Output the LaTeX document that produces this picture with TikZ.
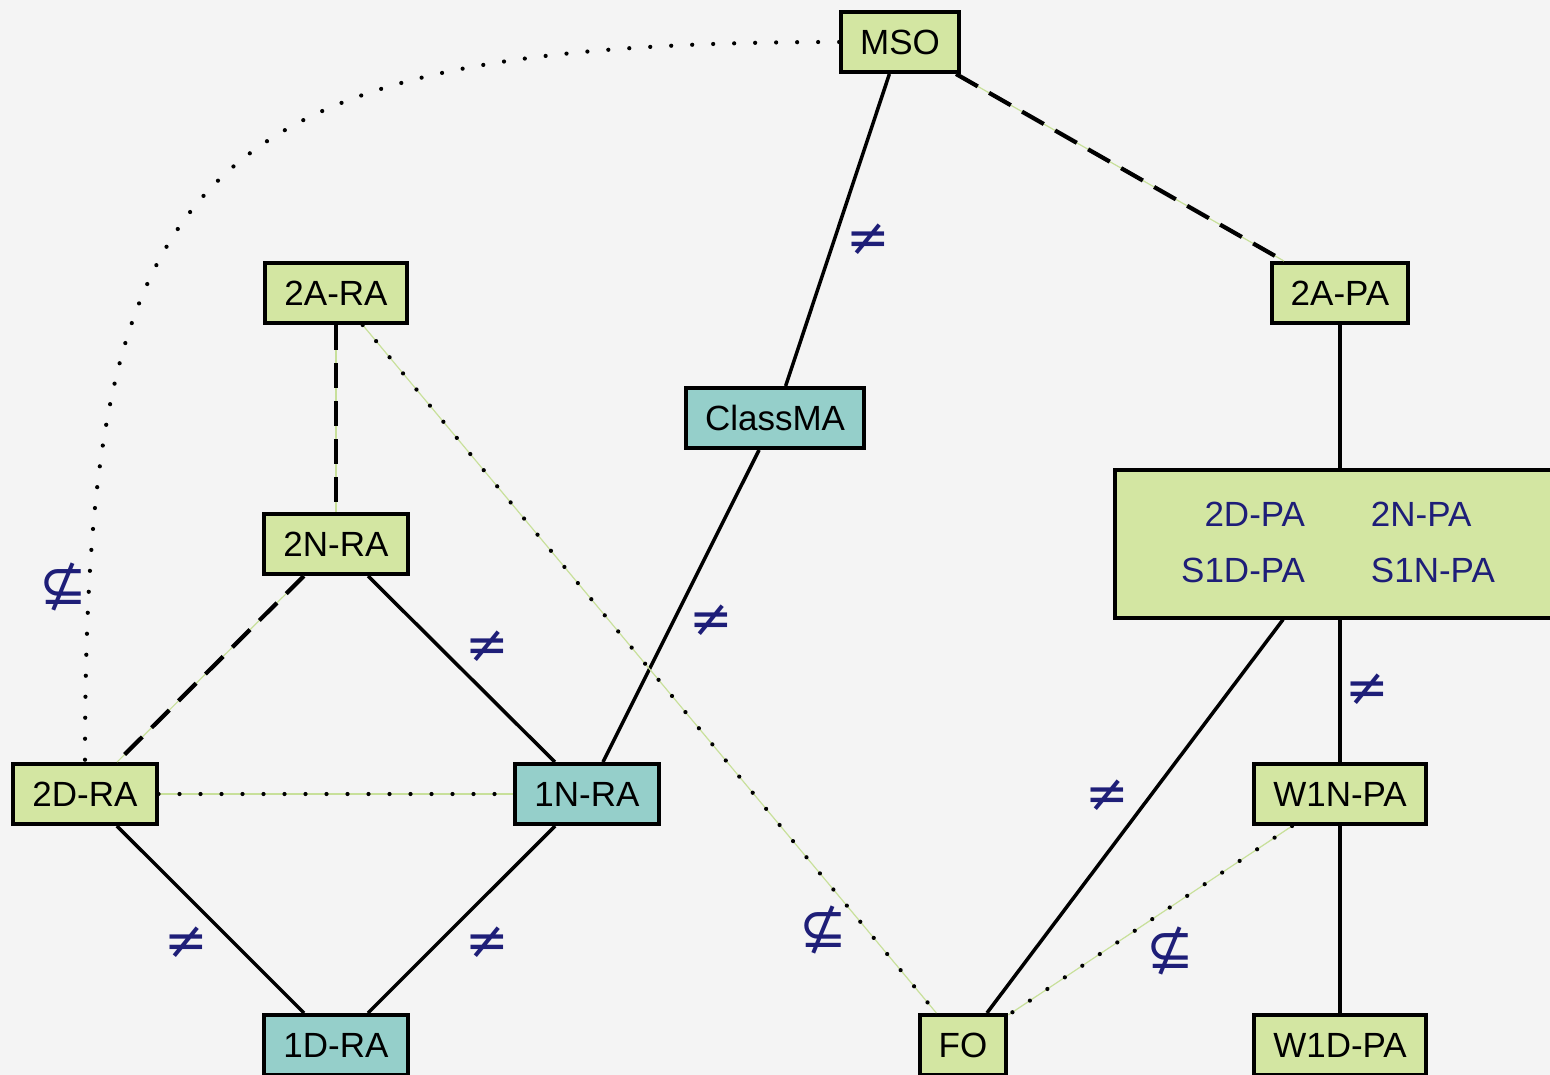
\documentclass[tikz,border=0pt]{standalone}
\usepackage{fontspec}
\setmainfont{Liberation Sans}
\newfontfamily\symfont{DejaVu Sans}
\definecolor{bg}{HTML}{F4F4F4}
\definecolor{boxgreen}{HTML}{D3E6A2}
\definecolor{boxteal}{HTML}{95CFCA}
\definecolor{navy}{HTML}{1E1E78}
\definecolor{lgreen}{HTML}{C8E09A}
\begin{document}
\begin{tikzpicture}[x=1pt,y=-1pt,
  box/.style={draw=black, line width=4pt, fill=boxgreen, minimum height=60pt,
    inner xsep=19pt, inner ysep=0pt, font=\fontsize{35}{42}\selectfont, text=black},
  tbox/.style={box, fill=boxteal},
  solidedge/.style={line width=3.5pt},
  dashedge/.style={line width=4.2pt, dash pattern=on 25pt off 13pt},
  dotedge/.style={line width=4.2pt, line cap=round, dash pattern=on 0pt off 21pt},
  under/.style={draw=lgreen, line width=1.2pt},
  sym/.style={text=navy, font=\symfont\fontsize{52}{52}\selectfont, inner sep=0pt},
  nsub/.style={sym, font=\symfont\fontsize{57}{57}\selectfont}]
\fill[bg] (0,0) rectangle (1550,1075);
\useasboundingbox (0,0) rectangle (1550,1075);
% nodes
\node[box]  (mso)     at (900,42)   {MSO};
\node[box]  (tara)    at (336,293)  {2A-RA};
\node[box]  (tapa)    at (1340,293) {2A-PA};
\node[tbox] (classma) at (775,418)  {ClassMA};
\node[box]  (tnra)    at (336,544)  {2N-RA};
\node[box, minimum width=450pt, minimum height=148pt] (pa) at (1340,543.5) {};
\node[font=\fontsize{35}{42}\selectfont, text=navy, inner sep=0pt] (patext) at (1338,546.5)
  {\begin{tabular}{@{}r@{\hspace{66pt}}l@{}}2D-PA & 2N-PA\\[14pt] S1D-PA & S1N-PA\end{tabular}};
\node[box]  (tdra)    at (85,794)   {2D-RA};
\node[tbox] (onra)    at (587,794)  {1N-RA};
\node[box]  (wnpa)    at (1340,794) {W1N-PA};
\node[tbox] (odra)    at (336,1045) {1D-RA};
\node[box]  (fo)      at (963,1045) {FO};
\node[box]  (wdpa)    at (1340,1045){W1D-PA};
% solid edges
\draw[solidedge] (mso) -- (classma);
\draw[solidedge] (classma) -- (onra);
\draw[solidedge] (tnra) -- (onra);
\draw[solidedge] (tdra) -- (odra);
\draw[solidedge] (onra) -- (odra);
\draw[solidedge] (tapa) -- (pa);
\draw[solidedge] (pa) -- (fo);
\draw[solidedge] (pa) -- (wnpa);
\draw[solidedge] (wnpa) -- (wdpa);
% dashed edges
\draw[under] (mso) -- (tapa);
\draw[dashedge] (mso) -- (tapa);
\draw[under] (tara) -- (tnra);
\draw[dashedge] (tara) -- (tnra);
\draw[under] (tnra) -- (tdra);
\draw[dashedge] (tnra) -- (tdra);
% dotted edges
\draw[under] (tara) -- (fo);
\draw[dotedge] (tara) -- (fo);
\draw[under] (tdra) -- (onra);
\draw[dotedge] (tdra) -- (onra);
\draw[under] (wnpa) -- (fo);
\draw[dotedge] (wnpa) -- (fo);
\draw[dotedge] (mso.west) .. controls (180,42) and (85,180) .. (tdra.north);
% labels
\node[sym] (n1) at (868,240) {≠};
\node[sym] (n2) at (711,621) {≠};
\node[sym] (n3) at (487,647) {≠};
\node[sym] (n4) at (186,943) {≠};
\node[sym] (n5) at (487,943) {≠};
\node[sym] (n6) at (1107,796) {≠};
\node[sym] (n7) at (1367,690) {≠};
\node[nsub] (m1) at (63,587) {⊈};
\node[nsub] (m2) at (823,930) {⊈};
\node[nsub] (m3) at (1170,951) {⊈};
\end{tikzpicture}
\end{document}
